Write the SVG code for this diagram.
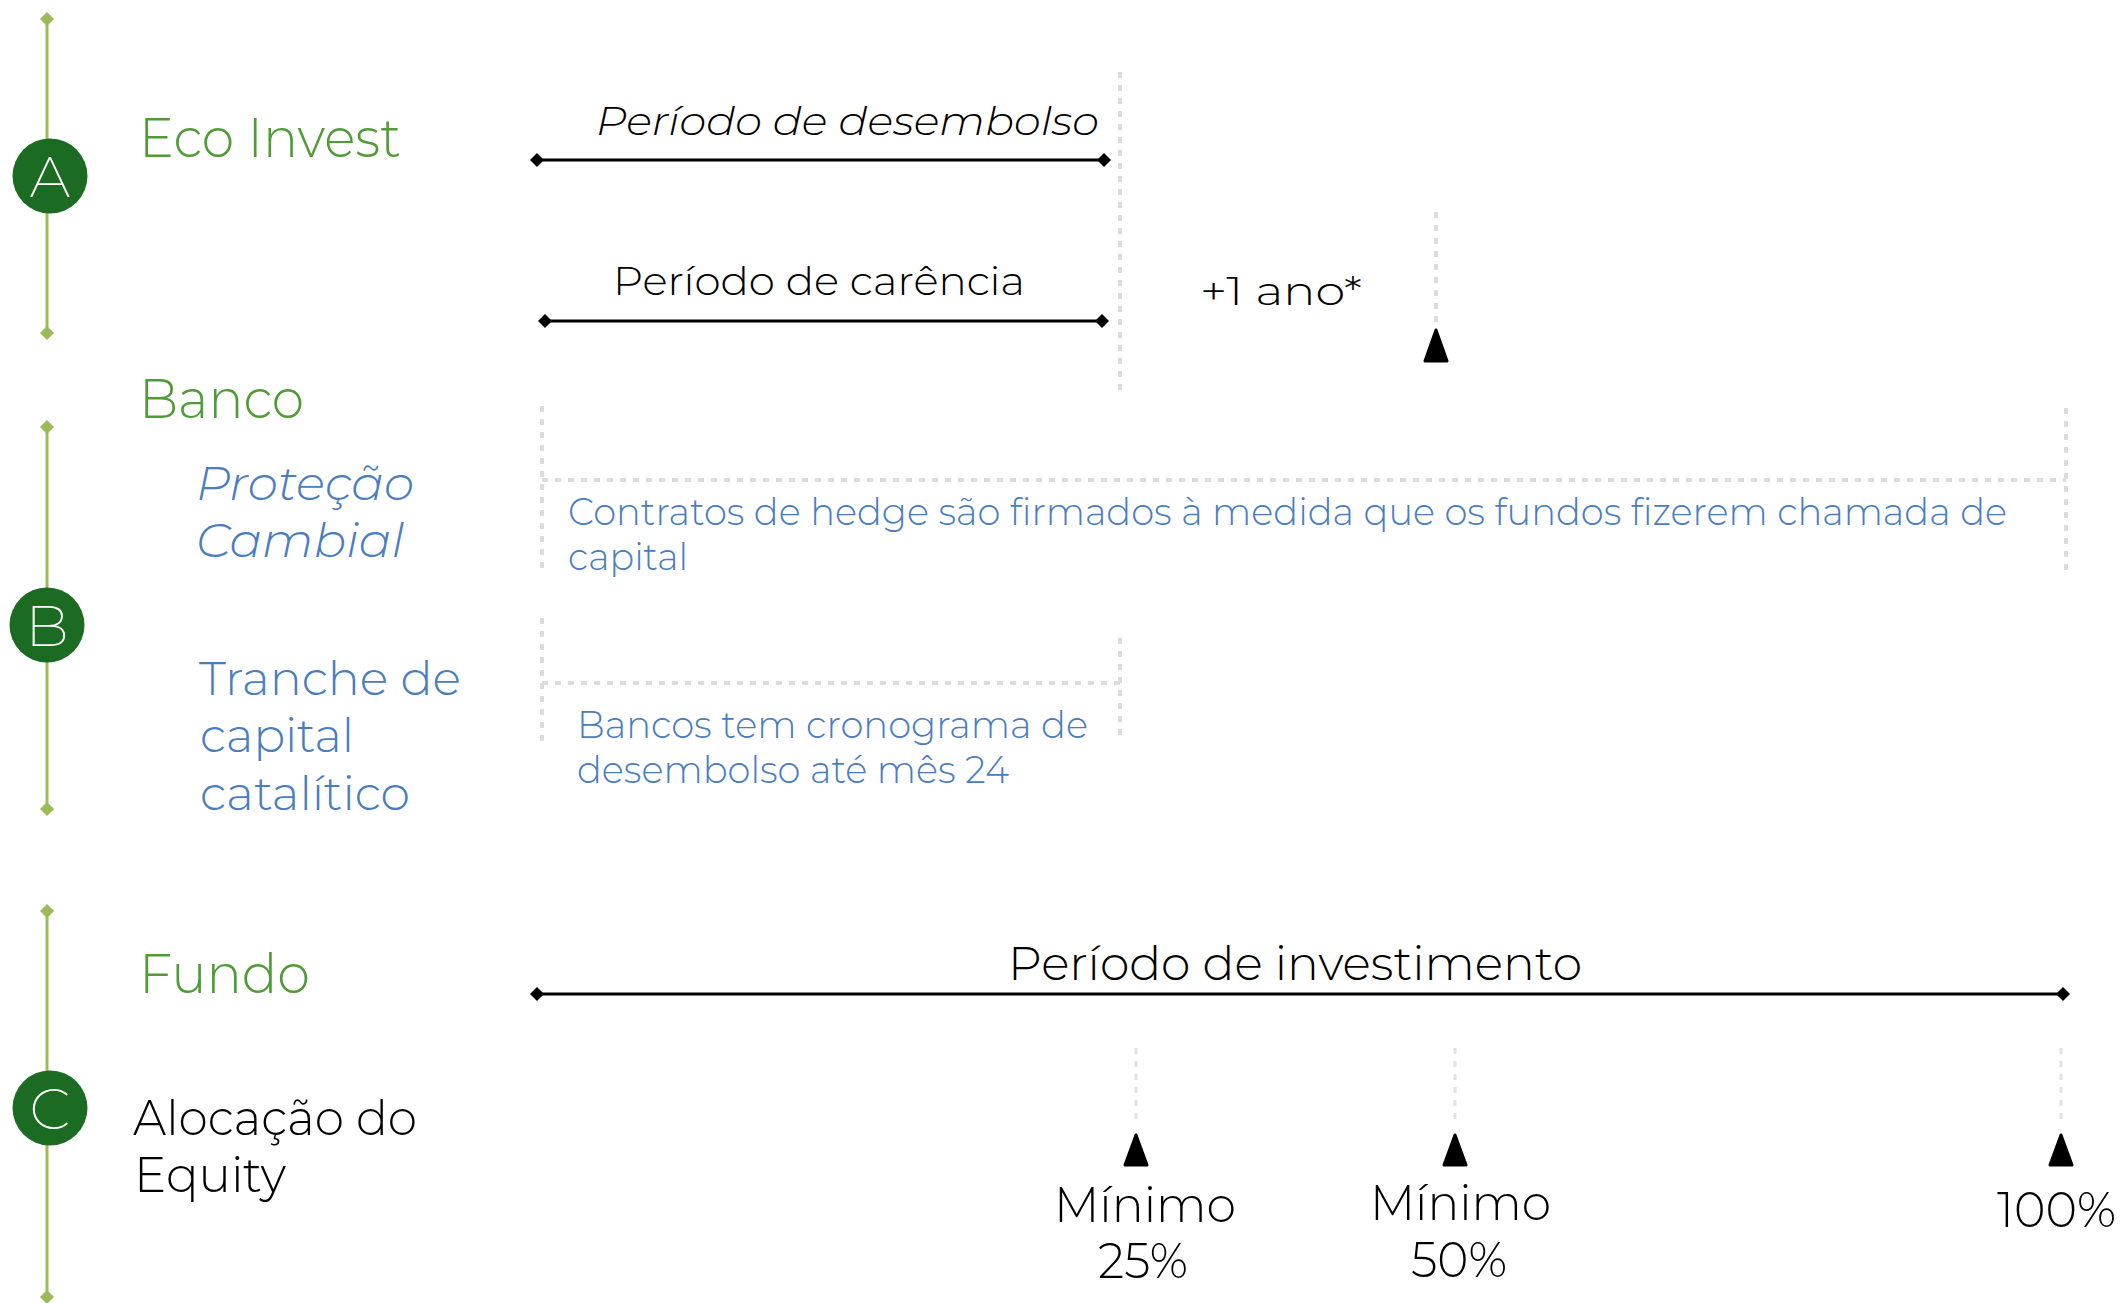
<svg xmlns="http://www.w3.org/2000/svg" width="2120" height="1303" viewBox="0 0 2120 1303">
<style>
text{font-family:Montserrat,"Open Sans","Noto Sans",sans-serif;font-weight:300}
.h{fill:#4f9b35;font-size:54px}
.b{fill:#4a7dbf;font-size:47px}
.bs{fill:#4a7dbf;font-size:38px}
.k{fill:#000;font-size:40px}
.kl{fill:#000;font-size:50px}
.it{font-style:italic}
.lt{fill:#fff;font-size:58px;font-weight:200;text-anchor:middle}
.gl{stroke:#9bbb59;stroke-width:3;fill:none}
.circ{fill:#1b6b23}
.ln{stroke:#000;stroke-width:3;fill:none}
.dot{stroke:#dcdcdc;stroke-width:4;stroke-dasharray:6 7;fill:none}
.dot2{stroke:#e2e2e2;stroke-width:3;stroke-dasharray:6 7;fill:none}
.tri{fill:#000;stroke:#000;stroke-width:3;stroke-linejoin:round}
</style>
<defs>
<marker id="dk" viewBox="0 0 14 14" refX="7" refY="7" markerWidth="14" markerHeight="14" markerUnits="userSpaceOnUse" orient="auto">
<path d="M7 0L14 7L7 14L0 7Z" fill="#000"/>
</marker>
<marker id="dg" viewBox="0 0 16 16" refX="8" refY="8" markerWidth="16" markerHeight="16" markerUnits="userSpaceOnUse" orient="auto">
<path d="M8 1L15 8L8 15L1 8Z" fill="#9bbb59"/>
</marker>
</defs>
<rect width="2120" height="1303" fill="#fff"/>

<g id="section-A">
<line class="gl" x1="47" y1="19" x2="47" y2="333" marker-start="url(#dg)" marker-end="url(#dg)"/>
<circle class="circ" cx="50" cy="176" r="37.5"/>
<text class="lt" x="50" y="197">A</text>
</g>
<g id="eco-invest"><text class="h" x="139" y="157" textLength="262" lengthAdjust="spacingAndGlyphs">Eco Invest</text></g>

<g id="section-B">
<line class="gl" x1="47" y1="427" x2="47" y2="809" marker-start="url(#dg)" marker-end="url(#dg)"/>
<circle class="circ" cx="47" cy="625" r="37.5"/>
<text class="lt" x="47" y="646">B</text>
</g>
<g id="banco"><text class="h" x="139" y="418" textLength="165" lengthAdjust="spacingAndGlyphs">Banco</text></g>
<g id="protecao-cambial">
<text class="b it" x="196" y="500" textLength="218" lengthAdjust="spacingAndGlyphs">Proteção</text>
<text class="b it" x="196" y="557" textLength="208" lengthAdjust="spacingAndGlyphs">Cambial</text>
</g>
<g id="tranche">
<text class="b" x="199" y="695" textLength="262" lengthAdjust="spacingAndGlyphs">Tranche de</text>
<text class="b" x="200" y="752" textLength="154" lengthAdjust="spacingAndGlyphs">capital</text>
<text class="b" x="200" y="810" textLength="210" lengthAdjust="spacingAndGlyphs">catalítico</text>
</g>

<g id="section-C">
<line class="gl" x1="47" y1="911" x2="47" y2="1297" marker-start="url(#dg)" marker-end="url(#dg)"/>
<circle class="circ" cx="50" cy="1108" r="37.5"/>
<text class="lt" x="50" y="1129">C</text>
</g>
<g id="fundo"><text class="h" x="139" y="993" textLength="171" lengthAdjust="spacingAndGlyphs">Fundo</text></g>
<g id="alocacao">
<text class="kl" x="133" y="1135" textLength="284" lengthAdjust="spacingAndGlyphs">Alocação do</text>
<text class="kl" x="134" y="1192" textLength="152" lengthAdjust="spacingAndGlyphs">Equity</text>
</g>

<g id="desembolso"><text class="k it" x="596" y="135" textLength="503" lengthAdjust="spacingAndGlyphs">Período de desembolso</text></g>
<g id="carencia"><text class="k" x="613" y="295" textLength="412" lengthAdjust="spacingAndGlyphs">Período de carência</text></g>
<g id="mais-um-ano"><text class="k" x="1200" y="305" textLength="162" lengthAdjust="spacingAndGlyphs">+1 ano*</text></g>

<g id="hedge-box">
<path class="dot" d="M542 406V575M542 480H2066M2066 408V575"/>
<text class="bs" x="568" y="525" textLength="1439" lengthAdjust="spacingAndGlyphs">Contratos de hedge são firmados à medida que os fundos fizerem chamada de</text>
<text class="bs" x="568" y="570" textLength="120" lengthAdjust="spacingAndGlyphs">capital</text>
</g>
<g id="tranche-box">
<path class="dot" d="M542 618V746M542 683H1120M1120 638V741"/>
<text class="bs" x="577" y="738" textLength="511" lengthAdjust="spacingAndGlyphs">Bancos tem cronograma de</text>
<text class="bs" x="577" y="783" textLength="432" lengthAdjust="spacingAndGlyphs">desembolso até mês 24</text>
</g>

<g id="investimento"><text class="kl" x="1008" y="980" textLength="574" lengthAdjust="spacingAndGlyphs" style="font-size:47px">Período de investimento</text></g>
<g id="min25">
<text class="kl" x="1054" y="1222" textLength="182" lengthAdjust="spacingAndGlyphs">Mínimo</text>
<text class="kl" x="1098" y="1278" textLength="90" lengthAdjust="spacingAndGlyphs">25%</text>
</g>
<g id="min50">
<text class="kl" x="1370" y="1220" textLength="181" lengthAdjust="spacingAndGlyphs">Mínimo</text>
<text class="kl" x="1411" y="1277" textLength="96" lengthAdjust="spacingAndGlyphs">50%</text>
</g>
<g id="full100"><text class="kl" x="1997" y="1227" textLength="119" lengthAdjust="spacingAndGlyphs">100%</text></g>

<g id="connectors">
<line class="ln" x1="537" y1="160" x2="1104" y2="160" marker-start="url(#dk)" marker-end="url(#dk)"/>
<line class="ln" x1="545" y1="321" x2="1102" y2="321" marker-start="url(#dk)" marker-end="url(#dk)"/>
<line class="ln" x1="537" y1="994" x2="2063" y2="994" marker-start="url(#dk)" marker-end="url(#dk)"/>
<line class="dot" x1="1120" y1="72" x2="1120" y2="393"/>
<line class="dot" x1="1436" y1="212" x2="1436" y2="323"/>
<path class="tri" d="M1436 330L1447 361H1425Z"/>
<line class="dot2" x1="1136" y1="1048" x2="1136" y2="1124"/>
<path class="tri" d="M1136 1135L1147 1165H1125Z"/>
<line class="dot2" x1="1455" y1="1048" x2="1455" y2="1124"/>
<path class="tri" d="M1455 1135L1466 1165H1444Z"/>
<line class="dot2" x1="2061" y1="1048" x2="2061" y2="1124"/>
<path class="tri" d="M2061 1135L2072 1165H2050Z"/>
</g>
</svg>
